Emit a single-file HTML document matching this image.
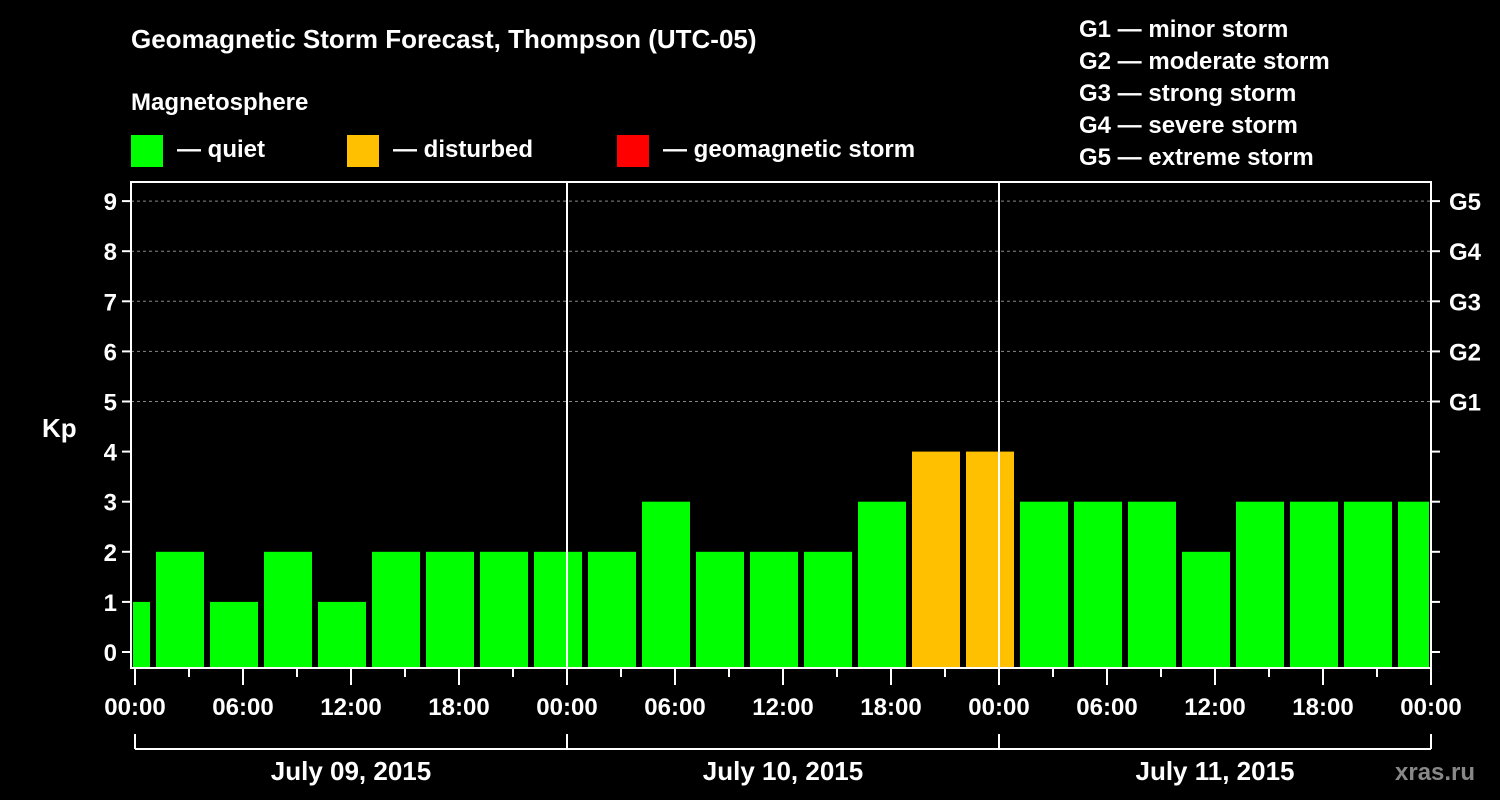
<!DOCTYPE html>
<html><head><meta charset="utf-8"><style>
html,body{margin:0;padding:0;background:#000;}
svg{display:block;font-family:"Liberation Sans",sans-serif;font-weight:bold;}
</style></head><body>
<svg id="chart" width="1500" height="800" viewBox="0 0 1500 800">
<defs><clipPath id="plotclip"><rect x="133" y="182" width="1296" height="486"/></clipPath></defs>
<text x="131" y="48" fill="#fff" font-size="26">Geomagnetic Storm Forecast, Thompson (UTC-05)</text>
<text x="131" y="110" fill="#fff" font-size="24">Magnetosphere</text>
<g><rect x="131" y="135" width="32" height="32" fill="#00ff00"/><text x="177" y="157" fill="#fff" font-size="24">— quiet</text></g>
<g><rect x="347" y="135" width="32" height="32" fill="#ffc000"/><text x="393" y="157" fill="#fff" font-size="24">— disturbed</text></g>
<g><rect x="617" y="135" width="32" height="32" fill="#ff0000"/><text x="663" y="157" fill="#fff" font-size="24">— geomagnetic storm</text></g>
<g fill="#fff" font-size="24">
<text x="1079" y="37">G1 — minor storm</text><text x="1079" y="69">G2 — moderate storm</text><text x="1079" y="101">G3 — strong storm</text><text x="1079" y="133">G4 — severe storm</text><text x="1079" y="165">G5 — extreme storm</text>
</g>
<text x="42" y="437" fill="#fff" font-size="26">Kp</text>
<text x="1395" y="780" fill="#888" font-size="24">xras.ru</text>
<g id="grid"></g><g id="bars" clip-path="url(#plotclip)"></g><g id="axes"></g>
</svg>
<script>
const kpValues=[1,2,1,2,1,2,2,2,2,2,3,2,2,2,3,4,4,3,3,3,2,3,3,3,3];
const barStartHours=-2;
const yTicks=[0,1,2,3,4,5,6,7,8,9];
const gLabels=["G1","G2","G3","G4","G5"];
const xTickLabels=["00:00","06:00","12:00","18:00","00:00","06:00","12:00","18:00","00:00","06:00","12:00","18:00","00:00"];
const dayLabels=["July 09, 2015","July 10, 2015","July 11, 2015"];
const NS="http://www.w3.org/2000/svg";
const X0=135,PX_H=18,Y0=652,PX_K=50.1,LEFT=131,RIGHT=1431,TOP=182,BOT=668;
const xs=h=>X0+h*PX_H, ys=k=>Y0-k*PX_K;
function mk(tag,attrs,parent,text){const e=document.createElementNS(NS,tag);for(const k in attrs)e.setAttribute(k,attrs[k]);if(text!==undefined)e.textContent=text;parent.appendChild(e);return e;}
const grid=document.getElementById('grid'),bars=document.getElementById('bars'),axes=document.getElementById('axes');
[5,6,7,8,9].forEach(k=>{const l=mk('line',{x1:LEFT,x2:RIGHT,y1:ys(k),y2:ys(k),stroke:'#888','stroke-dasharray':'3,3','stroke-width':1},grid);

});
kpValues.forEach((v,i)=>{const h=barStartHours+i*3;const c=v>=5?'#ff0000':(v>=4?'#ffc000':'#00ff00');
const r=mk('rect',{x:xs(h)+3,y:ys(v),width:3*PX_H-6,height:BOT-ys(v),fill:c},bars);

});
// frame
const f=mk('rect',{x:LEFT,y:TOP,width:RIGHT-LEFT,height:BOT-TOP,fill:'none',stroke:'#fff','stroke-width':2},axes);


[24,48].forEach(h=>{const l=mk('line',{x1:xs(h),x2:xs(h),y1:TOP,y2:BOT,stroke:'#fff','stroke-width':2},axes);

});
yTicks.forEach(k=>{mk('line',{x1:LEFT-9,x2:LEFT,y1:ys(k),y2:ys(k),stroke:'#fff','stroke-width':2},axes);
mk('line',{x1:RIGHT,x2:RIGHT+9,y1:ys(k),y2:ys(k),stroke:'#fff','stroke-width':2},axes);
const t=mk('text',{x:LEFT-14,y:ys(k)+9,fill:'#fff','font-size':24,'text-anchor':'end'},axes,String(k));

});
gLabels.forEach((g,i)=>{const t=mk('text',{x:RIGHT+18,y:ys(5+i)+9,fill:'#fff','font-size':24},axes,g);

});
for(let h=0;h<=72;h+=3){const major=h%6===0;mk('line',{x1:xs(h),x2:xs(h),y1:BOT,y2:major?685:677,stroke:'#fff','stroke-width':2},axes);}
xTickLabels.forEach((s,i)=>{const t=mk('text',{x:xs(i*6),y:715,fill:'#fff','font-size':24,'text-anchor':'middle'},axes,s);

});
mk('line',{x1:xs(0),x2:xs(72),y1:749,y2:749,stroke:'#fff','stroke-width':2},axes);
[0,24,48,72].forEach(h=>mk('line',{x1:xs(h),x2:xs(h),y1:734,y2:749,stroke:'#fff','stroke-width':2},axes));
dayLabels.forEach((d,i)=>{const t=mk('text',{x:xs(i*24+12),y:780,fill:'#fff','font-size':26,'text-anchor':'middle'},axes,d);

});
</script>
</body></html>
